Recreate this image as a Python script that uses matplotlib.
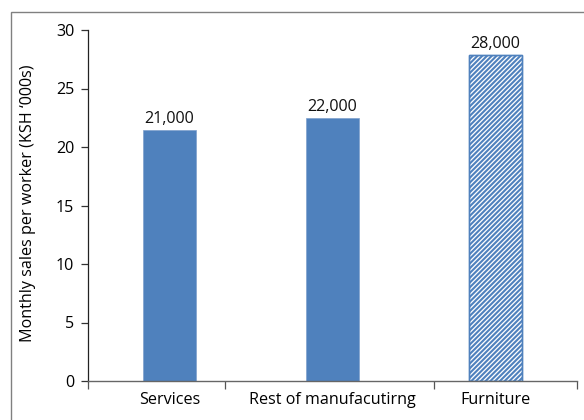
import matplotlib
matplotlib.use("Agg")
import matplotlib.pyplot as plt
from matplotlib.patches import Rectangle

categories = ["Services", "Rest of manufacutirng", "Furniture"]
values = [21.45, 22.45, 27.85]
value_labels = ["21,000", "22,000", "28,000"]
yticks = [0, 5, 10, 15, 20, 25, 30]

plt.rcParams['font.family'] = ['Open Sans', 'DejaVu Sans']
plt.rcParams['hatch.linewidth'] = 1.5

FS = 11.6
blue = "#4F81BD"
fig = plt.figure(figsize=(5.84, 4.2), dpi=100)
ax = fig.add_axes([88/584, 39/420, (577-88)/584, (381-30)/420])

x = list(range(len(categories)))
for i, (xi, v) in enumerate(zip(x, values)):
    if i == 2:
        ax.bar(xi, v, width=0.32, color="white", edgecolor=blue, hatch="///////", linewidth=1.0)
        ax.bar(xi, v, width=0.32, color="none", edgecolor=blue, linewidth=1.0)
    else:
        ax.bar(xi, v, width=0.32, color=blue, edgecolor="#7FA0CC", linewidth=0.5)
    ax.text(xi, v + 0.25, value_labels[i], ha="center", va="bottom", fontsize=FS, color="#111111")

ax.set_xlim(-0.5, 2.5)
ax.set_ylim(0, 30)
ax.set_yticks(yticks)
ax.set_yticklabels([str(t) for t in yticks], fontsize=FS)
ax.set_xticks(x)
ax.set_xticklabels(categories, fontsize=FS)
ax.tick_params(axis="x", which="major", length=0, pad=8)
ax.set_xticks([-0.5, 0.34, 1.62, 2.5], minor=True)
ax.tick_params(axis="x", which="minor", length=6, width=0.9, color="#555555", direction="out")
ax.tick_params(axis="y", length=5, width=0.9, color="#333333", pad=5)

for s in ["top", "right"]:
    ax.spines[s].set_visible(False)
ax.spines["left"].set_color("#222222")
ax.spines["left"].set_linewidth(0.9)
ax.spines["bottom"].set_color("#666666")
ax.spines["bottom"].set_linewidth(1.0)

ax.set_ylabel("Monthly sales per worker (KSH \u2018000s)", fontsize=FS)
ax.yaxis.set_label_coords(-0.106, 0.505)

fig.patches.append(Rectangle((11/584, -0.05), 1.2, 1 - 12/420 + 0.05, transform=fig.transFigure,
                             fill=False, edgecolor="#808080", linewidth=1.0))

fig.savefig("out.png", dpi=100)
